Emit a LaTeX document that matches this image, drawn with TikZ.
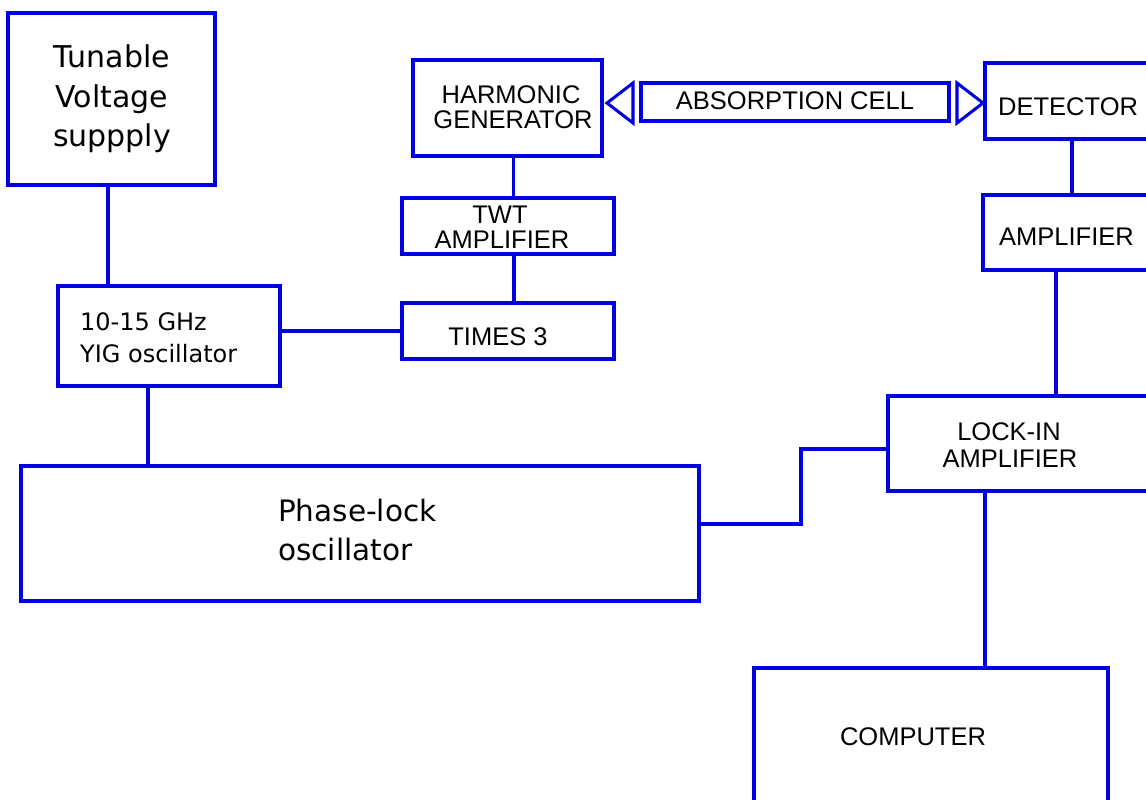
\documentclass[tikz,border=0pt]{standalone}
\usepackage{fontspec}
\setmainfont{DejaVu Sans}
\newfontfamily\capsf{Liberation Sans}
\definecolor{lineblue}{RGB}{0,0,225}
\begin{document}
\begin{tikzpicture}[x=1pt,y=-1pt,
  box/.style={draw=lineblue, line width=3.05pt, rectangle, inner sep=0pt},
  wire/.style={draw=lineblue, line width=3.05pt},
  capl/.style={font=\capsf\fontsize{25.5}{25}\selectfont, inner sep=0pt, anchor=base},
  verl/.style={font=\fontsize{30}{39}\selectfont, inner sep=0pt, anchor=base},
  phl/.style={font=\fontsize{29.5}{39}\selectfont, inner sep=0pt, anchor=base west},
  yigl/.style={font=\fontsize{24}{32}\selectfont, inner sep=0pt, anchor=base west}]
\useasboundingbox (0,0) rectangle (1146,800);
\clip (0,0) rectangle (1146,800);
\fill[white] (0,0) rectangle (1146,800);

% boxes
\node[box, minimum width=207pt, minimum height=172pt] (tvs) at (111.5,99) {};
\node[box, minimum width=222pt, minimum height=100pt] (yig) at (169,336) {};
\node[box, minimum width=212pt, minimum height=56pt] (times) at (508,331) {};
\node[box, minimum width=212pt, minimum height=56pt] (twt) at (508,226) {};
\node[box, minimum width=189pt, minimum height=96pt] (harm) at (507.5,108) {};
\node[box, minimum width=308pt, minimum height=38pt] (cell) at (795,102) {};
\node[box, minimum width=190pt, minimum height=76pt] (det) at (1080,101) {};
\node[box, minimum width=192pt, minimum height=75pt] (amp) at (1079,232.5) {};
\node[box, minimum width=287pt, minimum height=95pt] (lock) at (1031.5,443.5) {};
\node[box, minimum width=354pt, minimum height=160pt] (comp) at (931,748) {};
\node[box, minimum width=678pt, minimum height=135pt] (pll) at (360,533.5) {};

% cell end triangles
\coordinate (ltip) at (607,103);
\coordinate (rtip) at (983,103);
\draw[wire] (633,83) -- (ltip) -- (633,123) -- cycle;
\draw[wire] (957,83) -- (rtip) -- (957,123) -- cycle;

% labels
\node[verl] (t1) at (112,68) {Tunable};
\node[verl] (t2) at (112,107) {Voltage};
\node[verl] (t3) at (112,146) {suppply};
\node[yigl] (y1) at (80,330) {10-15 GHz};
\node[yigl] (y2) at (80,362) {YIG oscillator};
\node[phl] (p1) at (278,521) {Phase-lock};
\node[phl] (p2) at (278,560) {oscillator};
\node[capl] (tm) at (498,345) {TIMES 3};
\node[capl] (ac) at (795,109) {ABSORPTION CELL};
\node[capl] (h1) at (511,103) {HARMONIC};
\node[capl] (h2) at (513,128) {GENERATOR};
\node[capl] (w1) at (500,223) {TWT};
\node[capl] (w2) at (502,248) {AMPLIFIER};
\node[capl, anchor=base west] (d1) at (998,115) {DETECTOR};
\node[capl, anchor=base west] (a1) at (999,245) {AMPLIFIER};
\node[capl] (l1) at (1009,440) {LOCK-IN};
\node[capl] (l2) at (1010,467) {AMPLIFIER};
\node[capl] (c1) at (913,745) {COMPUTER};

% connectors
\draw[wire] ([xshift=-3.5pt]tvs.south) -- ([xshift=-3.5pt]tvs.south |- yig.north);
\draw[wire] (yig.east |- times.west) -- (times.west);
\draw[wire] ([xshift=6pt]harm.south) -- ([xshift=6pt]harm.south |- twt.north);
\draw[wire] ([xshift=6pt]twt.south) -- ([xshift=6pt]twt.south |- times.north);
\draw[wire] ([xshift=-21pt]yig.south) -- ([xshift=-21pt]yig.south |- pll.north);
\draw[wire] (1072,139) -- (1072,195);
\draw[wire] (1056,270) -- (1056,396);
\draw[wire] (985,491) -- (985,668);
\draw[wire] ([yshift=9.5pt]pll.east) -- (801,524) -- (801,449) -- (lock.west |- 801,449);
\end{tikzpicture}
\end{document}
